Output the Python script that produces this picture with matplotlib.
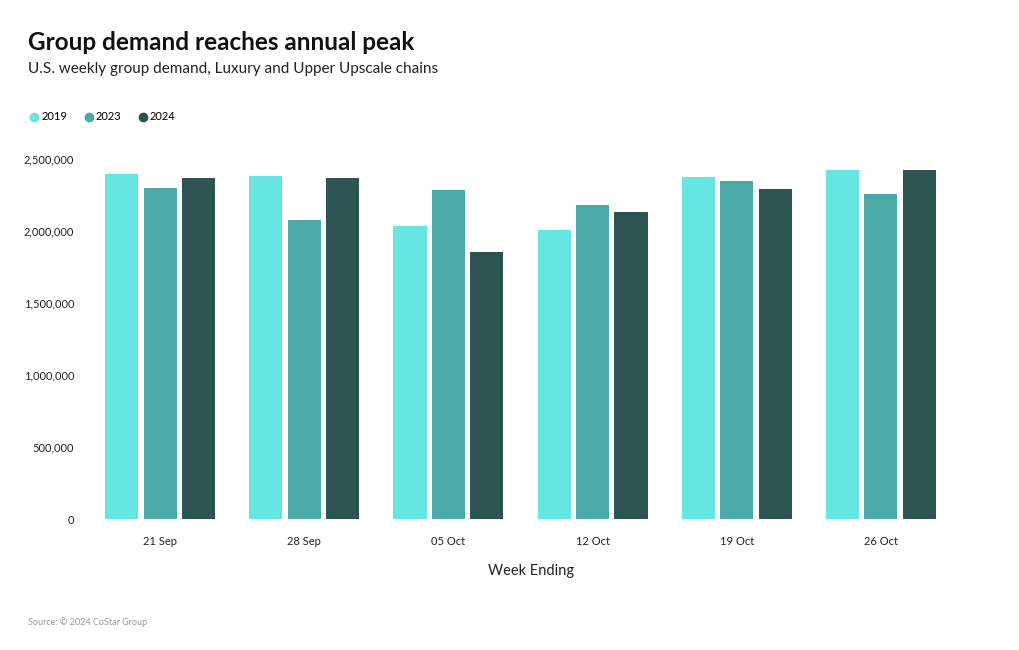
import matplotlib.pyplot as plt
import numpy as np
from matplotlib.lines import Line2D

plt.rcParams['font.family'] = ['Lato', 'DejaVu Sans']

# dados
semanas = ['21 Sep', '28 Sep', '05 Oct', '12 Oct', '19 Oct', '26 Oct']
anos = ['2019', '2023', '2024']
demanda_2019 = [2396000, 2382000, 2035000, 2007000, 2375000, 2424000]
demanda_2023 = [2299000, 2076000, 2285000, 2181000, 2347000, 2259000]
demanda_2024 = [2368000, 2368000, 1854000, 2132000, 2292000, 2424000]
cores = ['#66E6E2', '#4BAAA8', '#2D5352']

fig = plt.figure(figsize=(10.2, 6.5), dpi=100)
ax = fig.add_axes([88/1020, 1 - 519/650, (953 - 88)/1020, (519 - 159)/650])

x = np.arange(len(semanas))
largura = 0.23
passo = 0.267
for i, (serie, cor) in enumerate(zip([demanda_2019, demanda_2023, demanda_2024], cores)):
    ax.bar(x + (i - 1)*passo, serie, width=largura, color=cor, label=anos[i])

ax.set_xlim(-0.5, len(semanas) - 0.5)
ax.set_ylim(0, 2500000)
ax.set_yticks([0, 500000, 1000000, 1500000, 2000000, 2500000])
ax.set_yticklabels(['{:,}'.format(v) for v in [0, 500000, 1000000, 1500000, 2000000, 2500000]])
ax.set_xticks(x)
ax.set_xticklabels(semanas)
ax.tick_params(axis='both', length=0, labelsize=8, colors='#222222')
ax.tick_params(axis='x', pad=12)
ax.tick_params(axis='y', pad=10)
for s in ax.spines.values():
    s.set_visible(False)
ax.set_xlabel('Week Ending', fontsize=10.5, color='#222222')
ax.xaxis.set_label_coords((531 - 88)/865, -(571 - 519)/360, transform=ax.transAxes)
ax.xaxis.label.set_va('center')

fig.text(28/1020, 1 - 43/650, 'Group demand reaches annual peak', fontsize=17.5,
         fontweight='bold', va='center', ha='left', color='#111111')
fig.text(28/1020, 1 - 69/650, 'U.S. weekly group demand, Luxury and Upper Upscale chains',
         fontsize=11, va='center', ha='left', color='#222222')
fig.text(28/1020, 1 - 622/650, 'Source: © 2024 CoStar Group', fontsize=6.5,
         va='center', ha='left', color='#999999')

handles = [Line2D([], [], marker='o', linestyle='', markersize=6, color=c) for c in cores]
fig.legend(handles, anos, loc='center left', bbox_to_anchor=(21/1020, 1 - 117/650),
           ncol=3, frameon=False, fontsize=8, handlelength=0.6, handletextpad=0.35,
           columnspacing=1.6)

fig.savefig('out.png', dpi=100)
